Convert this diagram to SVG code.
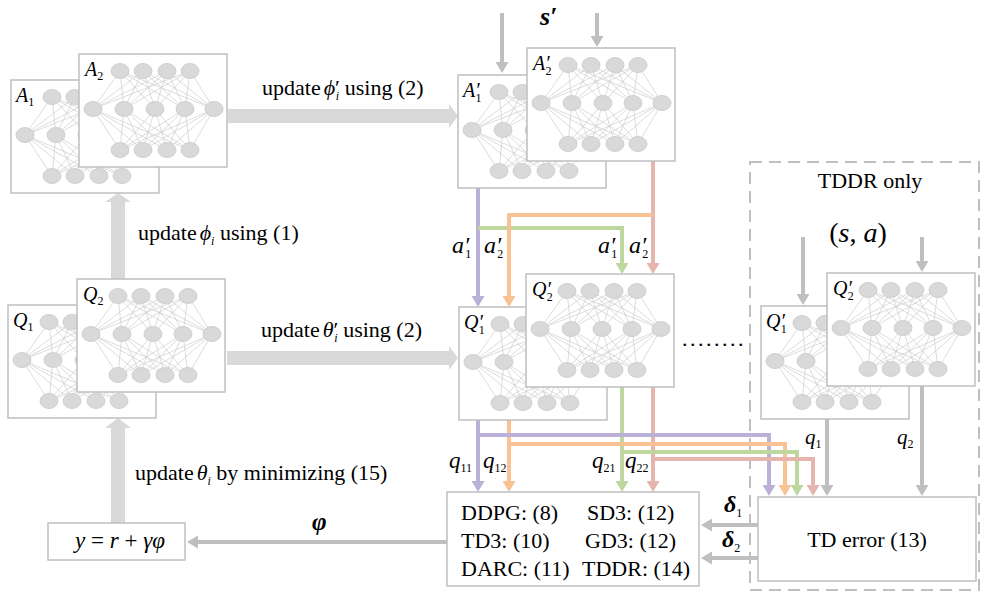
<svg xmlns="http://www.w3.org/2000/svg" width="984" height="595" viewBox="0 0 984 595" font-family="'Liberation Serif', 'DejaVu Serif', 'Times New Roman', serif">
<style>
text{fill:#000}
.box{fill:#fff;stroke:#bfbfbf;stroke-width:1.5}
.edge{stroke:#cdcdcd;stroke-width:0.7;fill:none}
.node{fill:#d9d9d9;stroke:#c8c8c8;stroke-width:0.8}
.nl{font-size:20px;font-style:italic}
.sb{font-size:12px;font-style:normal}
.lbl{font-size:22px}
.m{font-style:italic}
.big{fill:#d9d9d9}
.g{stroke:#bfbfbf;stroke-width:4;fill:none}
.pu{stroke:#bab0d8;stroke-width:4;fill:none}
.or{stroke:#f8c295;stroke-width:4;fill:none}
.gr{stroke:#bed79e;stroke-width:4;fill:none}
.pk{stroke:#e5b5ae;stroke-width:4;fill:none}
.bt{font-size:22px}
</style>
<defs>
<marker id="mg" viewBox="0 0 11 13" markerWidth="11" markerHeight="13" refX="1" refY="6.5" orient="auto" markerUnits="userSpaceOnUse"><path d="M0 0L11 6.5L0 13z" fill="#bfbfbf"/></marker>
<marker id="mpu" viewBox="0 0 11 13" markerWidth="11" markerHeight="13" refX="1" refY="6.5" orient="auto" markerUnits="userSpaceOnUse"><path d="M0 0L11 6.5L0 13z" fill="#bab0d8"/></marker>
<marker id="mor" viewBox="0 0 11 13" markerWidth="11" markerHeight="13" refX="1" refY="6.5" orient="auto" markerUnits="userSpaceOnUse"><path d="M0 0L11 6.5L0 13z" fill="#f8c295"/></marker>
<marker id="mgr" viewBox="0 0 11 13" markerWidth="11" markerHeight="13" refX="1" refY="6.5" orient="auto" markerUnits="userSpaceOnUse"><path d="M0 0L11 6.5L0 13z" fill="#bed79e"/></marker>
<marker id="mpk" viewBox="0 0 11 13" markerWidth="11" markerHeight="13" refX="1" refY="6.5" orient="auto" markerUnits="userSpaceOnUse"><path d="M0 0L11 6.5L0 13z" fill="#e5b5ae"/></marker>
<g id="net">
<rect class="box" x="0" y="0" width="148" height="113"/>
<path class="edge" d="M41 17L14 55M41 17L45 55M41 17L76 55M41 17L106 55M41 17L135 55M64 17L14 55M64 17L45 55M64 17L76 55M64 17L106 55M64 17L135 55M88 17L14 55M88 17L45 55M88 17L76 55M88 17L106 55M88 17L135 55M111 17L14 55M111 17L45 55M111 17L76 55M111 17L106 55M111 17L135 55M14 55L41 96M14 55L64 96M14 55L88 96M14 55L111 96M45 55L41 96M45 55L64 96M45 55L88 96M45 55L111 96M76 55L41 96M76 55L64 96M76 55L88 96M76 55L111 96M106 55L41 96M106 55L64 96M106 55L88 96M106 55L111 96M135 55L41 96M135 55L64 96M135 55L88 96M135 55L111 96"/>
<g class="node">
<ellipse cx="41" cy="17" rx="9" ry="7.5"/><ellipse cx="64" cy="17" rx="9" ry="7.5"/><ellipse cx="88" cy="17" rx="9" ry="7.5"/><ellipse cx="111" cy="17" rx="9" ry="7.5"/>
<ellipse cx="14" cy="55" rx="9" ry="7.5"/><ellipse cx="45" cy="55" rx="9" ry="7.5"/><ellipse cx="76" cy="55" rx="9" ry="7.5"/><ellipse cx="106" cy="55" rx="9" ry="7.5"/><ellipse cx="135" cy="55" rx="9" ry="7.5"/>
<ellipse cx="41" cy="96" rx="9" ry="7.5"/><ellipse cx="64" cy="96" rx="9" ry="7.5"/><ellipse cx="88" cy="96" rx="9" ry="7.5"/><ellipse cx="111" cy="96" rx="9" ry="7.5"/>
</g>
</g>
</defs>

<rect x="750" y="162" width="229" height="428" fill="none" stroke="#bfbfbf" stroke-width="2" stroke-dasharray="12 7"/>

<g id="connectors">
<polygon class="big" points="228,109 449,109 449,104 458,116 449,128 449,123 228,123"/>
<polygon class="big" points="227,351 449,351 449,346 458,358 449,370 449,365 227,365"/>
<polygon class="big" points="111,279 111,202 105,202 118,193 131,202 125,202 125,279"/>
<polygon class="big" points="111,523 111,428 105,428 118,418 131,428 125,428 125,523"/>
<path class="g" d="M502 13V63" marker-end="url(#mg)"/>
<path class="g" d="M597 13V37" marker-end="url(#mg)"/>
<path class="g" d="M803 237V295" marker-end="url(#mg)"/>
<path class="g" d="M922 237V262" marker-end="url(#mg)"/>
<path class="g" d="M827 418V486" marker-end="url(#mg)"/>
<path class="g" d="M922 386V486" marker-end="url(#mg)"/>
<path class="g" d="M758 525H711" marker-end="url(#mg)"/>
<path class="g" d="M758 558H711" marker-end="url(#mg)"/>
<path class="g" d="M447 542H197" marker-end="url(#mg)"/>
<path class="pu" d="M478 186V297" marker-end="url(#mpu)"/>
<path class="pk" d="M653 161V264" marker-end="url(#mpk)"/>
<path class="gr" d="M478 228H622V264" marker-end="url(#mgr)"/>
<path class="or" d="M653 215H509V297" marker-end="url(#mor)"/>
<path class="pu" d="M478 419V482" marker-end="url(#mpu)"/>
<path class="or" d="M509 419V482" marker-end="url(#mor)"/>
<path class="gr" d="M622 386V482" marker-end="url(#mgr)"/>
<path class="pk" d="M653 386V482" marker-end="url(#mpk)"/>
<path class="pu" d="M478 435H769V486" marker-end="url(#mpu)"/>
<path class="or" d="M509 444H785V486" marker-end="url(#mor)"/>
<path class="gr" d="M622 452H797V486" marker-end="url(#mgr)"/>
<path class="pk" d="M653 459H813V486" marker-end="url(#mpk)"/>
</g>

<g id="A1" transform="translate(11,80)"><use href="#net"/><text class="nl" x="5" y="22">A<tspan class="sb" dy="4">1</tspan></text></g>
<g id="A2" transform="translate(79,54)"><use href="#net"/><text class="nl" x="6" y="22">A<tspan class="sb" dy="4">2</tspan></text></g>
<g id="Q1" transform="translate(8,305)"><use href="#net"/><text class="nl" x="5" y="22">Q<tspan class="sb" dy="4">1</tspan></text></g>
<g id="Q2" transform="translate(77,279)"><use href="#net"/><text class="nl" x="6" y="22">Q<tspan class="sb" dy="4">2</tspan></text></g>
<g id="A1p" transform="translate(458,75)"><use href="#net"/><text class="nl" x="5" y="22">A<tspan>′</tspan><tspan class="sb" dx="-4" dy="5">1</tspan></text></g>
<g id="A2p" transform="translate(527,48)"><use href="#net"/><text class="nl" x="6" y="22">A<tspan>′</tspan><tspan class="sb" dx="-4" dy="5">2</tspan></text></g>
<g id="Q1p" transform="translate(459,307)"><use href="#net"/><text class="nl" x="5" y="22">Q<tspan>′</tspan><tspan class="sb" dx="-4" dy="5">1</tspan></text></g>
<g id="Q2p" transform="translate(526,274)"><use href="#net"/><text class="nl" x="6" y="22">Q<tspan>′</tspan><tspan class="sb" dx="-4" dy="5">2</tspan></text></g>
<g id="Q1p-tddr" transform="translate(761,306)"><use href="#net"/><text class="nl" x="5" y="22">Q<tspan>′</tspan><tspan class="sb" dx="-4" dy="5">1</tspan></text></g>
<g id="Q2p-tddr" transform="translate(827,273)"><use href="#net"/><text class="nl" x="6" y="22">Q<tspan>′</tspan><tspan class="sb" dx="-4" dy="5">2</tspan></text></g>

<g id="target">
<rect class="box" x="48" y="523" width="137" height="37"/>
<text x="120" y="548" text-anchor="middle" font-size="23"><tspan class="m">y</tspan> = <tspan class="m">r</tspan> + <tspan class="m">γφ</tspan></text>
</g>
<g id="algos">
<rect class="box" x="447" y="492" width="252" height="94"/>
<text class="bt" x="461" y="520">DDPG: (8)</text>
<text class="bt" x="461" y="548">TD3: (10)</text>
<text class="bt" x="461" y="576">DARC: (11)</text>
<text class="bt" x="587" y="520">SD3: (12)</text>
<text class="bt" x="585" y="548">GD3: (12)</text>
<text class="bt" x="582" y="576">TDDR: (14)</text>
</g>
<g id="tderror">
<rect class="box" x="758" y="497" width="218" height="84"/>
<text class="bt" x="867" y="547" text-anchor="middle">TD error (13)</text>
</g>

<g id="labels">
<text class="lbl" x="262" y="95">update<tspan class="m" dx="3">ϕ</tspan><tspan>′</tspan><tspan class="sb m" dx="-4" dy="5">i</tspan><tspan dy="-5"> using (2)</tspan></text>
<text class="lbl" x="138" y="240">update<tspan class="m" dx="3">ϕ</tspan><tspan class="sb m" dy="5">i</tspan><tspan dy="-5"> using (1)</tspan></text>
<text class="lbl" x="261" y="337">update<tspan class="m" dx="3">θ</tspan><tspan>′</tspan><tspan class="sb m" dx="-4" dy="5">i</tspan><tspan dy="-5"> using (2)</tspan></text>
<text class="lbl" x="135" y="480">update<tspan class="m" dx="3">θ</tspan><tspan class="sb m" dy="5">i</tspan><tspan dy="-5"> by minimizing (15)</tspan></text>
<text x="540" y="25" font-size="26" font-style="italic" font-weight="bold">s′</text>
<text x="870" y="188" font-size="22" text-anchor="middle">TDDR only</text>
<text x="858" y="242" font-size="28" text-anchor="middle">(<tspan class="m">s</tspan>, <tspan class="m">a</tspan>)</text>
<text x="312" y="530" font-size="25" font-style="italic" font-weight="bold">φ</text>
<text x="682" y="346" font-size="22" letter-spacing="2.5">........</text>
<text x="452" y="253" font-size="24" font-style="italic">a<tspan>′</tspan><tspan class="sb" font-size="13" dx="-4" dy="5">1</tspan></text>
<text x="484" y="253" font-size="24" font-style="italic">a<tspan>′</tspan><tspan class="sb" font-size="13" dx="-4" dy="5">2</tspan></text>
<text x="598" y="253" font-size="24" font-style="italic">a<tspan>′</tspan><tspan class="sb" font-size="13" dx="-4" dy="5">1</tspan></text>
<text x="629" y="253" font-size="24" font-style="italic">a<tspan>′</tspan><tspan class="sb" font-size="13" dx="-4" dy="5">2</tspan></text>
<text x="449" y="468" font-size="23" font-style="italic">q<tspan class="sb" font-size="13" dy="4">11</tspan></text>
<text x="483" y="468" font-size="23" font-style="italic">q<tspan class="sb" font-size="13" dy="4">12</tspan></text>
<text x="592" y="468" font-size="23" font-style="italic">q<tspan class="sb" font-size="13" dy="4">21</tspan></text>
<text x="625" y="468" font-size="23" font-style="italic">q<tspan class="sb" font-size="13" dy="4">22</tspan></text>
<text x="805" y="444" font-size="21" font-style="italic">q<tspan class="sb" dy="4">1</tspan></text>
<text x="897" y="444" font-size="21" font-style="italic">q<tspan class="sb" dy="4">2</tspan></text>
<text x="724" y="512" font-size="24" font-style="italic" font-weight="bold">δ<tspan class="sb" font-weight="normal" dy="5">1</tspan></text>
<text x="722" y="547" font-size="24" font-style="italic" font-weight="bold">δ<tspan class="sb" font-weight="normal" dy="5">2</tspan></text>
</g>
</svg>
